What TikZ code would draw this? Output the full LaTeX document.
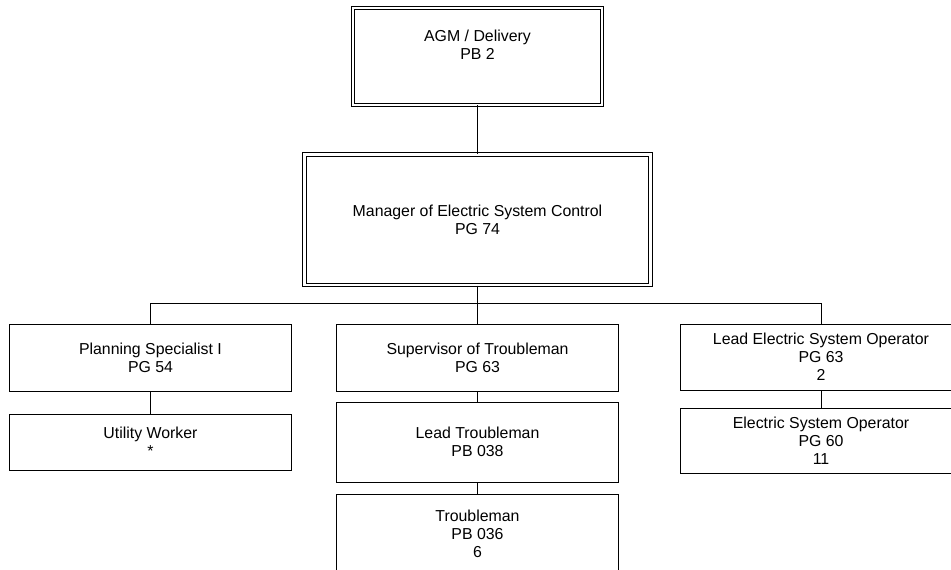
\documentclass[tikz,border=0pt]{standalone}
\usepackage{fontspec}
\setmainfont{Liberation Sans}
\usepackage{tikz}
\tikzset{post/.style={draw, line width=0.75pt, align=center, inner sep=0pt,
    minimum width=211.5pt, font=\fontsize{11.9}{13.6}\selectfont},
  headpost/.style={post, double, double distance=1.9pt}}

\begin{document}
\begin{tikzpicture}[x=0.75pt, y=-0.75pt, line width=0.75pt]
    \useasboundingbox (0,0) rectangle (951,569);

    % top of the chart
    \node [headpost, minimum width=186.75pt, minimum height=72.75pt] (agm) at (477.5,56.3) {AGM / Delivery\\PB 2\\\strut};
    \node [headpost, minimum width=259.5pt, minimum height=97.9pt] (mgr) at (477.5,219.8) {Manager of Electric System Control\\PG 74};

    % three columns under the manager
    \node [post, minimum height=50.25pt] (plan) at (150.5,357.5) {Planning Specialist I\\PG 54};
    \node [post, minimum height=42pt] (util) at (150.5,442) {Utility Worker\\*};

    \node [post, minimum height=50.25pt] (sup) at (477.5,357.5) {Supervisor of Troubleman\\PG 63};
    \node [post, minimum height=60pt] (ltm) at (477.5,442) {Lead Troubleman\\PB 038};
    \node [post, minimum height=60pt] (tm) at (477.5,534) {Troubleman\\PB 036\\6};

    \node [post, minimum height=49.5pt] (leso) at (821,357) {Lead Electric System Operator\\PG 63\\2};
    \node [post, minimum height=48.75pt] (eso) at (821,440.5) {Electric System Operator\\PG 60\\11};

    \coordinate (bus) at (477.5,303.5);
    \draw (agm) -- (mgr);
    \draw (mgr) -- (sup);
    \draw (plan.north) |- (bus) -| (leso.north);
    \draw (plan) -- (util);
    \draw (sup) -- (ltm);
    \draw (ltm) -- (tm);
    \draw (leso) -- (eso);
  \end{tikzpicture}
\end{document}
